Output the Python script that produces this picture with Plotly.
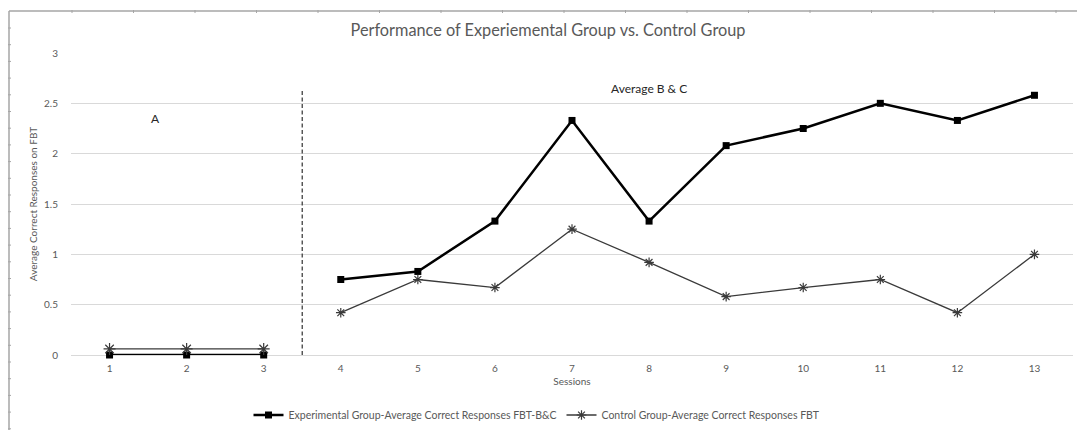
import plotly.graph_objects as go

sessions = [1, 2, 3, 4, 5, 6, 7, 8, 9, 10, 11, 12, 13]
session_labels = [str(s) for s in sessions]
experimental = [0, 0, 0, 0.75, 0.83, 1.33, 2.33, 1.33, 2.08, 2.25, 2.5, 2.33, 2.58]
control = [0.06, 0.06, 0.06, 0.42, 0.75, 0.67, 1.25, 0.92, 0.58, 0.67, 0.75, 0.42, 1.0]
phase_a_end = 3  # sessions 1-3 belong to phase A

exp_name = "Experimental Group-Average Correct Responses FBT-B&C"
ctl_name = "Control Group-Average Correct Responses FBT"

FONT = "Lato"
GRAY = "#595959"

fig = go.Figure()

segments = [(0, phase_a_end), (phase_a_end, len(sessions))]
for i, (a, b) in enumerate(segments):
    fig.add_trace(go.Scatter(
        x=sessions[a:b], y=experimental[a:b], mode="lines+markers",
        name=exp_name, legendgroup="exp", showlegend=(i == 1),
        line=dict(color="black", width=2.5),
        marker=dict(symbol="square", size=7, color="black"),
        cliponaxis=False,
    ))
for i, (a, b) in enumerate(segments):
    fig.add_trace(go.Scatter(
        x=sessions[a:b], y=control[a:b], mode="lines+markers",
        name=ctl_name, legendgroup="ctl", showlegend=(i == 1),
        line=dict(color="#3a3a3a", width=1.3),
        marker=dict(symbol="asterisk-open", size=10 if i == 0 else 8,
                    line=dict(color="black", width=1.2)),
        cliponaxis=False,
    ))

# phase separator
fig.add_shape(type="line", x0=3.5, x1=3.5, y0=0, y1=2.63, xref="x", yref="y",
              line=dict(color="#404040", width=1.3, dash="4px,2.5px"))

fig.add_annotation(x=1.6, y=2.35, text="A", showarrow=False,
                   font=dict(family=FONT, size=12, color="#262626"))
fig.add_annotation(x=8.0, y=2.65, text="Average B &amp; C", showarrow=False,
                   font=dict(family=FONT, size=12, color="#262626"))

# outer frame with ruler-like ticks
frame_col = "#a6a6a6"
fig.add_shape(type="line", xref="paper", yref="paper",
              x0=(9 - 71) / 1002, x1=(1077 - 71) / 1002,
              y0=(355 - 11) / 302, y1=(355 - 11) / 302,
              line=dict(color=frame_col, width=1.5))
fig.add_shape(type="line", xref="paper", yref="paper",
              x0=(9 - 71) / 1002, x1=(9 - 71) / 1002,
              y0=(355 - 11) / 302, y1=(355 - 440) / 302,
              line=dict(color=frame_col, width=1.5))
px = 72
while px < 1077:
    fig.add_shape(type="line", xref="paper", yref="paper",
                  x0=(px - 71) / 1002, x1=(px - 71) / 1002,
                  y0=(355 - 10) / 302, y1=(355 - 13) / 302,
                  line=dict(color=frame_col, width=1))
    px += 61.5
py = 28
while py < 430:
    fig.add_shape(type="line", xref="paper", yref="paper",
                  x0=(8 - 71) / 1002, x1=(11 - 71) / 1002,
                  y0=(355 - py) / 302, y1=(355 - py) / 302,
                  line=dict(color=frame_col, width=1))
    py += 16.7

fig.update_layout(
    width=1077, height=430,
    margin=dict(l=71, r=4, t=53, b=75, autoexpand=False),
    paper_bgcolor="white", plot_bgcolor="white",
    title=dict(text="Performance of Experiemental Group vs. Control Group",
               x=(548) / 1077, xanchor="center", y=1 - 30 / 430, yanchor="middle",
               font=dict(family=FONT, size=16.3, color=GRAY)),
    showlegend=True,
    legend=dict(orientation="h", xref="container", yref="container",
                x=537 / 1077, xanchor="center",
                y=1 - 415 / 430, yanchor="middle",
                font=dict(family=FONT, size=10.5, color=GRAY),
                itemwidth=30, traceorder="normal"),
    font=dict(family=FONT, color=GRAY),
)
fig.update_xaxes(
    range=[0.5, 13.5], tickvals=sessions, ticktext=session_labels,
    showgrid=False, zeroline=False, showline=False, automargin=False,
    tickfont=dict(family=FONT, size=10, color=GRAY),
    ticklabelstandoff=6,
    title=dict(text="Sessions", font=dict(family=FONT, size=10, color=GRAY), standoff=4),
)
fig.update_yaxes(
    range=[0, 3], dtick=0.5, showgrid=True, gridcolor="#d9d9d9", gridwidth=1,
    zeroline=True, zerolinecolor="#d9d9d9", zerolinewidth=1, showline=False,
    automargin=False,
    tickfont=dict(family=FONT, size=10, color=GRAY),
    ticklabelstandoff=12,
    title=dict(text="Average Correct Responses on FBT",
               font=dict(family=FONT, size=10, color=GRAY), standoff=4),
)

fig.write_html("out.html", config={"displayModeBar": False},
               post_script="document.body.style.margin='0';document.body.style.padding='0';")
